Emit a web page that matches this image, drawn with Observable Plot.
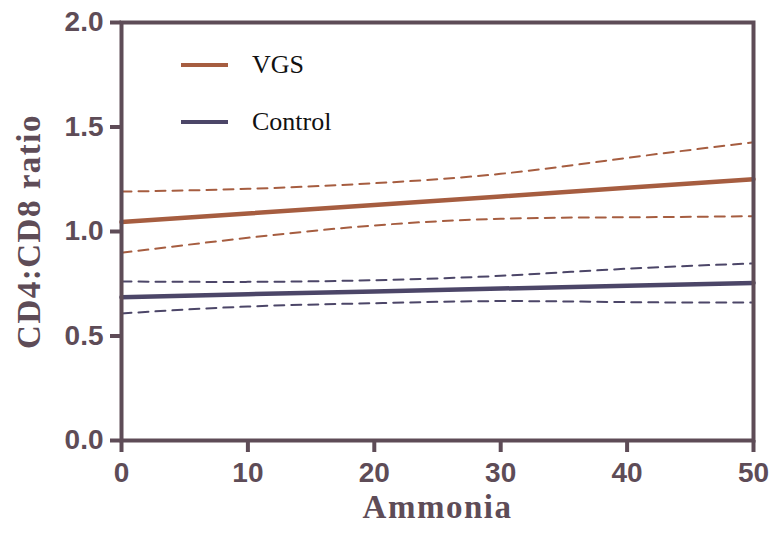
<!DOCTYPE html>
<html>
<head>
<meta charset="utf-8">
<script src="https://cdn.jsdelivr.net/npm/d3@7"></script>
<script src="https://cdn.jsdelivr.net/npm/@observablehq/plot@0.6"></script>
<style>
  html, body { margin: 0; padding: 0; background: #fff; }
  #chart { position: relative; width: 772px; height: 533px; }
</style>
</head>
<body>
<div id="chart"></div>
<script>
// Ammonia levels at which the regression fits and 95% bands are evaluated
const ammonia = [0, 10, 20, 30, 40, 50];

// VGS group: fitted line and confidence band
const vgsFit   = [1.045, 1.086, 1.127, 1.168, 1.209, 1.250];
const vgsUpper = [1.191, 1.204, 1.231, 1.276, 1.352, 1.427];
const vgsLower = [0.898, 0.970, 1.029, 1.061, 1.068, 1.073];

// Control group: fitted line and confidence band
const ctlFit   = [0.686, 0.700, 0.713, 0.727, 0.740, 0.754];
const ctlUpper = [0.761, 0.759, 0.767, 0.788, 0.822, 0.847];
const ctlLower = [0.608, 0.641, 0.657, 0.667, 0.662, 0.660];

const xTicks = [0, 10, 20, 30, 40, 50];
const yTicks = [0, 0.5, 1.0, 1.5, 2.0];
const seriesNames = ["VGS", "Control"];

const colors = { VGS: "#a65d40", Control: "#4c4668" };
const ink = "#5e4c57";
const sans = "'Liberation Sans', Arial, sans-serif";
const serif = "'Liberation Serif', 'Times New Roman', serif";

const rows = (vals) => vals.map((v, i) => ({ x: ammonia[i], y: v }));

const solid = (vals, color) =>
  Plot.line(rows(vals), { x: "x", y: "y", stroke: color, strokeWidth: 4.5 });
const dashed = (vals, color) =>
  Plot.line(rows(vals), { x: "x", y: "y", stroke: color, strokeWidth: 2,
    strokeDasharray: "10,7", curve: "natural" });

const chart = Plot.plot({
  width: 772,
  height: 533,
  marginLeft: 121,
  marginRight: 19,
  marginTop: 22,
  marginBottom: 93,
  style: { color: ink, background: "#fff", overflow: "visible" },
  x: { domain: [0, 50] },
  y: { domain: [0, 2] },
  marks: [
    dashed(vgsUpper, colors.VGS),
    dashed(vgsLower, colors.VGS),
    dashed(ctlUpper, colors.Control),
    dashed(ctlLower, colors.Control),
    solid(vgsFit, colors.VGS),
    solid(ctlFit, colors.Control),
    Plot.frame({ stroke: ink, strokeWidth: 4 }),
    Plot.axisY({
      ticks: yTicks, tickFormat: d3.format(".1f"), tickSize: 11, tickPadding: 7,
      strokeWidth: 4, label: null,
      fontFamily: sans, fontWeight: "bold", fontSize: 28
    }),
    Plot.axisX({
      ticks: xTicks, tickFormat: d3.format("d"), tickSize: 12, tickPadding: 10,
      strokeWidth: 4, label: null,
      fontFamily: sans, fontWeight: "bold", fontSize: 28
    }),
    Plot.text(["CD4:CD8 ratio"], {
      text: d => d, frameAnchor: "left", textAnchor: "middle", rotate: -90, dx: -92,
      fontFamily: serif, fontWeight: "bold", fontSize: 33, fill: ink
    }),
    Plot.text(["Ammonia"], {
      text: d => d, frameAnchor: "bottom", dy: 77,
      fontFamily: serif, fontWeight: "bold", fontSize: 33, fill: ink
    })
  ]
});

chart.querySelectorAll("text").forEach(t => {
  if (t.textContent === "CD4:CD8 ratio" || t.textContent === "Ammonia") {
    t.setAttribute("letter-spacing", "1.5");
  }
});

// Legend in the upper-left corner of the plot area
const svg = d3.select(chart);
const legend = svg.append("g").attr("class", "legend").attr("text-anchor", "start");
seriesNames.forEach((name, i) => {
  const y = 65 + i * 57;
  legend.append("line")
    .attr("x1", 181).attr("x2", 228).attr("y1", y).attr("y2", y)
    .attr("stroke", colors[name]).attr("stroke-width", 4);
  legend.append("text")
    .attr("x", 252).attr("y", y + 8)
    .attr("text-anchor", "start")
    .attr("font-family", serif)
    .attr("font-size", 26).attr("fill", "#111")
    .text(name);
});

document.getElementById("chart").appendChild(chart);
</script>
</body>
</html>
